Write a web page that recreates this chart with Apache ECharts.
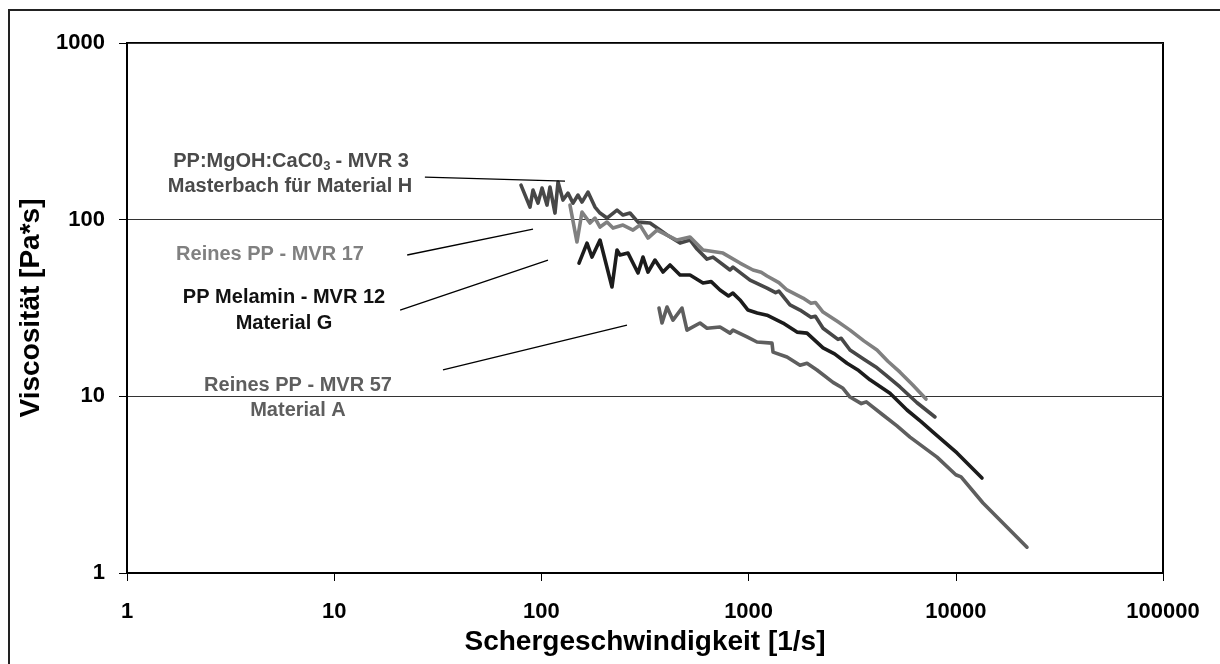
<!DOCTYPE html>
<html>
<head>
<meta charset="utf-8">
<script src="https://cdn.jsdelivr.net/npm/echarts@6/dist/echarts.min.js"></script>
<style>
  html, body { margin: 0; padding: 0; background: #fff; }
  #chart { width: 1220px; height: 664px; }
</style>
</head>
<body>
<div id="chart"></div>
<script>
// Schergeschwindigkeit [1/s] vs. Viscosität [Pa*s]
const mgohMvr3 = [
  [79.7, 157.0], [88.1, 117.8], [91.1, 147.1], [96.3, 124.1], [100.7, 150.9],
  [106.4, 120.9], [110.0, 152.9], [116.3, 109.0], [120.3, 163.3], [127.1, 129.1],
  [134.4, 141.4], [142.1, 124.1], [150.2, 137.8], [157.0, 125.8], [167.8, 143.3],
  [181.4, 117.8], [191.8, 109.0], [207.3, 102.1], [231.7, 113.3], [247.6, 106.2],
  [267.7, 109.0], [292.6, 96.9], [334.3, 95.7], [373.7, 87.3], [403.9, 81.8],
  [466.7, 73.7], [521.5, 76.7], [563.6, 68.2], [629.9, 59.8], [673.3, 61.4],
  [813.4, 51.9], [840.9, 53.9], [1016, 45.5], [1227, 41.0], [1350, 38.6],
  [1400, 39.4], [1584, 32.9], [1771, 30.8], [2000, 28.0], [2100, 28.4],
  [2287, 24.3], [2700, 21.0], [2800, 21.3], [3086, 18.3], [3600, 16.2],
  [4166, 14.5], [4600, 13.2], [5379, 11.3], [6500, 9.2], [7936, 7.64]
];
const reinesMvr17 = [
  [137.4, 120.9], [148.5, 74.7], [157.0, 110.4], [171.6, 95.7], [181.4, 102.1],
  [191.8, 90.8], [207.3, 96.9], [221.6, 89.6], [247.6, 93.2], [276.8, 87.3],
  [299.2, 93.2], [327.0, 78.7], [361.4, 87.3], [403.9, 81.8], [451.1, 76.7],
  [521.5, 79.7], [602.5, 67.3], [752.2, 64.7], [908.8, 56.8], [1050, 51.9],
  [1150, 50.4], [1227, 48.0], [1400, 44.0], [1532, 40.0], [1830, 36.0],
  [2000, 33.6], [2100, 34.0], [2287, 30.0], [2700, 26.4], [3086, 23.7],
  [3600, 20.6], [4166, 18.3], [4700, 15.8], [5379, 13.7], [6200, 11.6], [7181, 9.65]
];
const melaminMvr12 = [
  [151.9, 56.8], [166.0, 73.7], [175.5, 61.4], [191.8, 76.7], [219.1, 41.6],
  [231.7, 67.3], [239.5, 63.1], [261.8, 64.7], [292.6, 49.9], [309.3, 61.4],
  [327.0, 50.5], [353.4, 59.1], [386.3, 50.5], [417.6, 55.4], [466.7, 48.6],
  [521.5, 48.6], [602.5, 43.8], [660, 44.6], [727.8, 40.0], [800, 37.0],
  [840, 38.4], [908.8, 35.1], [993.4, 30.8], [1100, 29.6], [1227, 28.8],
  [1466, 26.0], [1712, 23.1], [1914, 22.8], [2287, 18.8], [2600, 17.4],
  [2985, 15.4], [3400, 14.0], [3854, 12.4], [4813, 10.4], [5815, 8.37],
  [6800, 7.2], [7762, 6.28], [10134, 4.78], [13379, 3.45]
];
const reinesMvr57 = [
  [369.5, 31.6], [382.1, 26.0], [403.9, 32.0], [431.6, 27.0], [477.0, 31.6],
  [504.2, 23.7], [582.6, 26.0], [629.9, 24.3], [727.8, 24.7], [813.4, 22.8],
  [840.9, 23.7], [982.4, 21.7], [1098, 20.3], [1297, 20.0], [1312, 17.8],
  [1532, 16.7], [1771, 15.0], [1914, 15.4], [2138, 14.1], [2555, 12.0],
  [2855, 11.1], [3086, 9.91], [3500, 9.1], [3700, 9.3], [4453, 7.84],
  [5200, 6.8], [6011, 5.88], [8117, 4.53], [10000, 3.6], [10600, 3.5],
  [13530, 2.49], [22059, 1.40]
];

// Hinweislinien von den Beschriftungen zu den Kurven
const leaderMvr3 = [[27.4, 174.2], [130.0, 165.3]];
const leaderMvr17 = [[22.5, 63.1], [91.1, 88.5]];
const leaderMvr12 = [[20.8, 30.8], [107.6, 59.1]];
const leaderMvr57 = [[33.5, 14.1], [258.9, 25.3]];

const xTicks = [1, 10, 100, 1000, 10000, 100000];
const yTicks = [1, 10, 100, 1000];

const FONT = '"Liberation Sans", Arial, sans-serif';

const chart = echarts.init(document.getElementById('chart'));

const curve = (name, data, color) => ({
  name: name,
  type: 'line',
  data: data,
  showSymbol: false,
  symbol: 'none',
  silent: true,
  lineStyle: { color: color, width: 3.6, cap: 'round', join: 'round' },
  z: 3
});

const leader = (data) => ({
  type: 'line',
  data: data,
  showSymbol: false,
  symbol: 'none',
  silent: true,
  lineStyle: { color: '#000', width: 1.3 },
  z: 4
});

const label = (x, y, text, color, rich) => ({
  type: 'text',
  x: x,
  y: y,
  silent: true,
  style: {
    text: text,
    fill: color,
    font: 'bold 20px ' + FONT,
    align: 'center',
    verticalAlign: 'middle',
    rich: rich
  }
});

const option = {
  backgroundColor: '#fff',
  animation: false,
  grid: {
    left: 127,
    right: 57,
    top: 43,
    bottom: 91,
    show: true,
    borderColor: '#000',
    borderWidth: 2
  },
  xAxis: {
    type: 'log',
    logBase: 10,
    min: xTicks[0],
    max: xTicks[xTicks.length - 1],
    name: 'Schergeschwindigkeit [1/s]',
    nameLocation: 'middle',
    nameGap: 50,
    nameTextStyle: { color: '#000', fontFamily: FONT, fontWeight: 'bold', fontSize: 28 },
    axisLine: { lineStyle: { color: '#000', width: 2 } },
    axisTick: { show: true, inside: false, length: 8, lineStyle: { color: '#000', width: 1 } },
    minorTick: { show: false },
    splitLine: { show: false },
    axisLabel: {
      color: '#000',
      fontFamily: FONT,
      fontWeight: 'bold',
      fontSize: 22,
      margin: 28,
      formatter: (v) => String(Math.round(v))
    }
  },
  yAxis: {
    type: 'log',
    logBase: 10,
    min: yTicks[0],
    max: yTicks[yTicks.length - 1],
    name: 'Viscosität [Pa*s]',
    nameLocation: 'middle',
    nameGap: 70,
    nameTextStyle: { color: '#000', fontFamily: FONT, fontWeight: 'bold', fontSize: 28 },
    axisLine: { lineStyle: { color: '#000', width: 2 } },
    axisTick: { show: true, inside: false, length: 8, lineStyle: { color: '#000', width: 1 } },
    minorTick: { show: false },
    splitLine: { show: true, lineStyle: { color: '#333', width: 1 } },
    axisLabel: {
      color: '#000',
      fontFamily: FONT,
      fontWeight: 'bold',
      fontSize: 22,
      margin: 22,
      formatter: (v) => String(Math.round(v))
    }
  },
  series: [
    curve('Reines PP - MVR 57', reinesMvr57, '#5e5e5e'),
    curve('PP Melamin - MVR 12', melaminMvr12, '#1c1c1c'),
    curve('PP:MgOH:CaC03 - MVR 3', mgohMvr3, '#474747'),
    curve('Reines PP - MVR 17', reinesMvr17, '#808080'),
    leader(leaderMvr3),
    leader(leaderMvr17),
    leader(leaderMvr12),
    leader(leaderMvr57)
  ],
  graphic: [
    {
      type: 'rect',
      silent: true,
      shape: { x: 9, y: 10, width: 1240, height: 700 },
      style: { fill: null, stroke: '#222', lineWidth: 2 },
      z: -1
    },
    label(291, 161, '{a|PP:MgOH:CaC0}{s|3}{a|- MVR 3}', '#4a4a4a', {
      a: { font: 'bold 20px ' + FONT, fill: '#4a4a4a' },
      s: { font: 'bold 13px ' + FONT, fill: '#4a4a4a', padding: [11, 5, 0, 0] }
    }),
    label(290, 186, 'Masterbach für Material H', '#4a4a4a'),
    label(270, 254, 'Reines PP - MVR 17', '#808080'),
    label(284, 297, 'PP Melamin - MVR 12', '#111'),
    label(284, 323, 'Material G', '#111'),
    label(298, 385, 'Reines PP - MVR 57', '#5e5e5e'),
    label(298, 410, 'Material A', '#5e5e5e')
  ]
};

chart.setOption(option);
</script>
</body>
</html>
